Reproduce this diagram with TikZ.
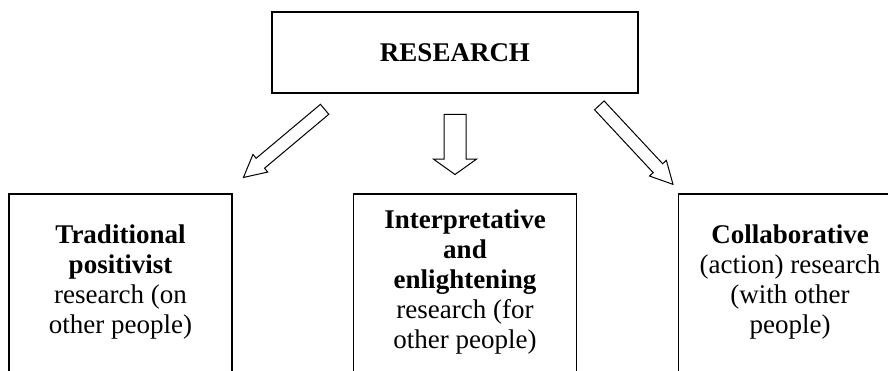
\documentclass[tikz,border=0pt]{standalone}
\usepackage{fontspec}
\setmainfont{Liberation Serif}
\usetikzlibrary{shapes.arrows}

\begin{document}
\begin{tikzpicture}[x=1pt,y=1pt,line width=1.1pt,font=\fontsize{27}{30}\selectfont,
		box/.style={draw, minimum width=223, minimum height=200, inner sep=0},
		txt/.style={align=center, inner sep=0},
		fat arrow/.style={single arrow, draw, line width=1pt, inner xsep=0, minimum height=#1, single arrow head indent=0, anchor=tail}]
		  \useasboundingbox (0,0) rectangle (888,-371);
		  \node[draw, minimum width=366, minimum height=81] (research) at (455,-52.5) {\textbf{RESEARCH}};
		  \node[box] (trad)   at (120.5,-294)  {};
		  \node[txt] (tradtext) at (120.5,-282) {\textbf{Traditional}\\\textbf{positivist}\\research (on\\other people)};
		  \node[box] (interp) at (465,-294)    {};
		  \node[txt] (interptext) at (465,-282) {\textbf{Interpretative}\\\textbf{and}\\\textbf{enlightening}\\research (for\\other people)};
		  \node[box] (collab) at (790,-294)    {};
		  \node[txt] (collabtext) at (790,-282) {\textbf{Collaborative}\\(action) research\\(with other\\people)};
		  % hollow arrows out of RESEARCH
		  \node[fat arrow=106, inner ysep=6, single arrow head extend=5, single arrow tip angle=55, rotate=220] (toleft) at (325,-109) {};
		  \node[fat arrow=60, inner ysep=10.5, single arrow head extend=10.5, single arrow tip angle=109, rotate=-90] (todown) at (455,-114) {};
		  \node[fat arrow=108, inner ysep=6, single arrow head extend=5, single arrow tip angle=55, rotate=-47] (toright) at (599,-105) {};
		\end{tikzpicture}
\end{document}
